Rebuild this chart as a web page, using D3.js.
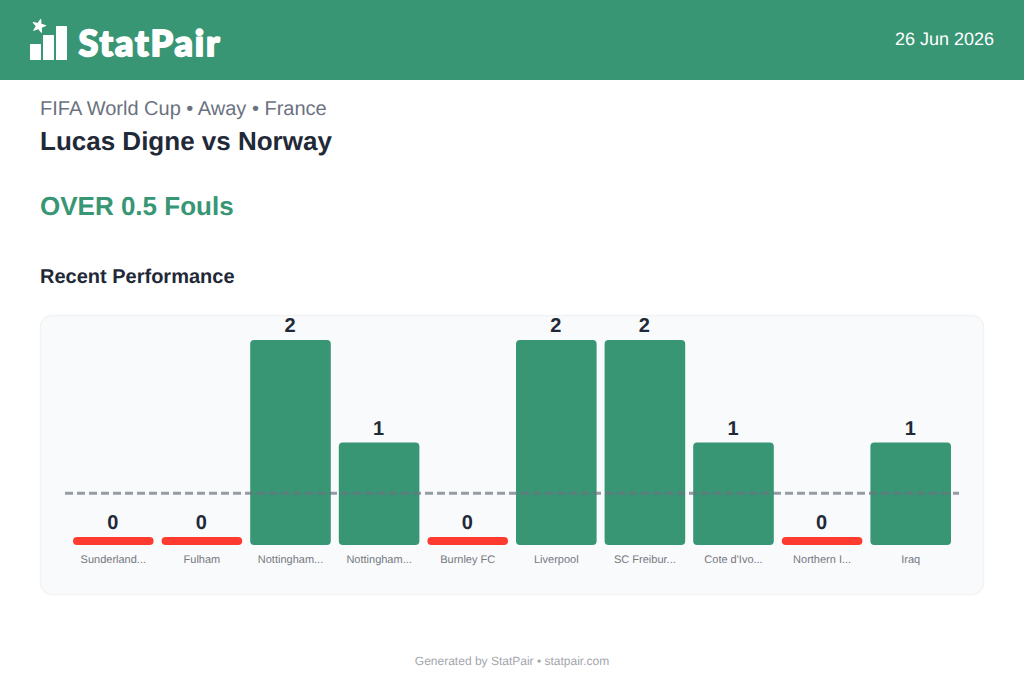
<!DOCTYPE html>
<html>
<head>
<meta charset="utf-8">
<script src="https://cdn.jsdelivr.net/npm/d3@7"></script>
<style>
  html, body { margin: 0; padding: 0; background: #fff; }
  svg { display: block; font-family: "Liberation Sans", Arial, sans-serif; text-rendering: geometricPrecision; }
</style>
</head>
<body>
<div id="chart"></div>
<script>
const opponents = ["Sunderland...", "Fulham", "Nottingham...", "Nottingham...", "Burnley FC",
                   "Liverpool", "SC Freibur...", "Cote d'Ivo...", "Northern I...", "Iraq"];
const fouls = [0, 0, 2, 1, 0, 2, 2, 1, 0, 1];
const line = 0.5;

const green = "#389674";
const red = "#ff3b30";
const dark = "#1f2937";

const width = 1024, height = 680;

const svg = d3.select("#chart").append("svg")
    .attr("width", width)
    .attr("height", height);

// header band
svg.append("rect").attr("width", width).attr("height", 80).attr("fill", green);

// logo
const logo = svg.append("g").attr("fill", "#fff");
logo.selectAll("rect")
    .data([[30, 44, 16], [43, 35, 25], [56, 26, 34]])
    .enter().append("rect")
        .attr("x", d => d[0])
        .attr("y", d => d[1])
        .attr("width", 11)
        .attr("height", d => d[2])
        .attr("rx", 0.5);
logo.append("path")
    .attr("d", d3.symbol(d3.symbolStar, 50))
    .attr("stroke", "#fff")
    .attr("stroke-width", 1.2)
    .attr("stroke-linejoin", "round")
    .attr("transform", "translate(39,26) rotate(14)");
logo.append("text")
    .attr("x", 78.5)
    .attr("y", 55.5)
    .attr("font-family", "Lato, sans-serif")
    .attr("font-weight", 900)
    .attr("font-size", 36)
    .attr("letter-spacing", 1.9)
    .attr("stroke", "#fff")
    .attr("stroke-width", 1.8)
    .attr("stroke-linejoin", "round")
    .text("StatPair");

svg.append("text")
    .attr("x", 994).attr("y", 45)
    .attr("text-anchor", "end")
    .attr("font-size", 18)
    .attr("fill", "#fff")
    .text("26 Jun 2026");

// headings
svg.append("text").attr("x", 40).attr("y", 115)
    .attr("font-size", 20).attr("fill", "#6b7280")
    .text("FIFA World Cup • Away • France");
svg.append("text").attr("x", 40).attr("y", 150)
    .attr("font-size", 26).attr("font-weight", 700).attr("fill", dark)
    .text("Lucas Digne vs Norway");
svg.append("text").attr("x", 40).attr("y", 215)
    .attr("font-size", 26).attr("font-weight", 700).attr("fill", green)
    .text("OVER 0.5 Fouls");
svg.append("text").attr("x", 40).attr("y", 283)
    .attr("font-size", 20).attr("font-weight", 700).attr("fill", dark)
    .text("Recent Performance");

// card behind the chart
svg.append("rect")
    .attr("x", 40.5).attr("y", 315.5)
    .attr("width", 943).attr("height", 279)
    .attr("rx", 12)
    .attr("fill", "#f9fafb")
    .attr("stroke", "#f1f3f5")
    .attr("stroke-width", 1.5);

// scales
const xscale = d3.scaleBand()
    .domain(d3.range(opponents.length))
    .range([73, 951])
    .paddingInner(0.0903)
    .paddingOuter(0);

const yscale = d3.scaleLinear()
    .domain([0, 2])
    .range([545, 340]);

const minBar = 8; // zero values still get a small red pill

svg.append("g")
    .selectAll("rect")
    .data(fouls)
    .enter().append("rect")
        .attr("x", (d, i) => xscale(i))
        .attr("y", d => d > 0 ? yscale(d) : yscale(0) - minBar)
        .attr("width", xscale.bandwidth())
        .attr("height", d => d > 0 ? yscale(0) - yscale(d) : minBar)
        .attr("rx", 4)
        .attr("fill", d => d > line ? green : red);

// line marker, drawn over the bars
svg.append("line")
    .attr("x1", 65).attr("x2", 959)
    .attr("y1", yscale(line) - 0.5).attr("y2", yscale(line) - 0.5)
    .attr("stroke", "#6b7280")
    .attr("stroke-opacity", 0.7)
    .attr("stroke-width", 3)
    .attr("stroke-dasharray", "8 4");

// value labels
svg.append("g")
    .selectAll("text")
    .data(fouls)
    .enter().append("text")
        .attr("x", (d, i) => xscale(i) + xscale.bandwidth() / 2 - 0.5)
        .attr("y", d => (d > 0 ? yscale(d) : yscale(0) - minBar) - 8)
        .attr("text-anchor", "middle")
        .attr("font-size", 20)
        .attr("font-weight", 700)
        .attr("fill", dark)
        .text(d => d);

// opponent labels
const xaxis = d3.axisBottom(xscale)
    .tickSize(0)
    .tickPadding(10)
    .tickFormat(i => opponents[i]);

const axisG = svg.append("g")
    .attr("transform", "translate(0,545)")
    .call(xaxis);
axisG.select(".domain").remove();
axisG.selectAll("text")
    .attr("font-family", "'Liberation Sans', Arial, sans-serif")
    .attr("font-size", 11)
    .attr("fill", "#74787f");

svg.append("text")
    .attr("x", 512).attr("y", 665)
    .attr("text-anchor", "middle")
    .attr("font-size", 12)
    .attr("fill", "#a3a6ad")
    .text("Generated by StatPair • statpair.com");
</script>
</body>
</html>
